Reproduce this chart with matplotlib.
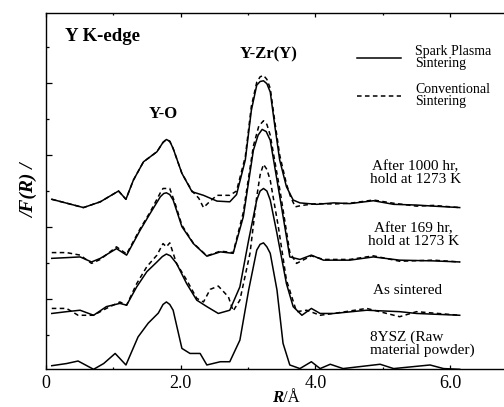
import matplotlib
matplotlib.use("Agg")
import matplotlib.pyplot as plt
from matplotlib.ticker import MultipleLocator

plt.rcParams['font.family'] = ['Liberation Serif', 'DejaVu Serif']

# ---- data (R in Angstrom, |F(R)| in stacked arbitrary units) ----
r_sps_1000 = [0.09, 0.56, 0.81, 1.08, 1.19, 1.30, 1.45, 1.65, 1.74, 1.79, 1.84, 1.89, 2.02, 2.17, 2.34, 2.54,
              2.73, 2.83, 2.96, 3.05, 3.13, 3.18, 3.23, 3.28, 3.33, 3.40, 3.47, 3.57, 3.67, 3.77, 4.02, 4.27,
              4.51, 4.86, 5.16, 5.50, 5.75, 6.14]
f_sps_1000 = [4.77, 4.54, 4.70, 5.00, 4.77, 5.30, 5.81, 6.09, 6.35, 6.43, 6.38, 6.18, 5.49, 4.98, 4.88, 4.72,
              4.70, 4.90, 5.86, 7.24, 7.94, 8.04, 8.06, 7.98, 7.75, 6.78, 5.86, 5.12, 4.75, 4.67, 4.63, 4.67,
              4.65, 4.73, 4.63, 4.61, 4.58, 4.54]

r_cs_1000 = [0.09, 0.56, 0.81, 1.08, 1.19, 1.30, 1.45, 1.65, 1.74, 1.79, 1.84, 1.89, 2.02, 2.17, 2.27, 2.34,
             2.44, 2.54, 2.73, 2.83, 2.96, 3.05, 3.13, 3.18, 3.23, 3.28, 3.33, 3.40, 3.47, 3.57, 3.63, 3.70,
             3.80, 4.02, 4.27, 4.51, 4.86, 5.16, 5.50, 5.75, 6.14]
f_cs_1000 = [4.77, 4.54, 4.70, 5.00, 4.77, 5.30, 5.81, 6.09, 6.35, 6.43, 6.38, 6.18, 5.49, 5.00, 4.80, 4.54,
             4.72, 4.88, 4.88, 5.00, 5.95, 7.35, 8.02, 8.17, 8.21, 8.10, 7.85, 6.90, 6.00, 5.20, 4.85, 4.56,
             4.60, 4.65, 4.64, 4.66, 4.75, 4.66, 4.58, 4.60, 4.54]

r_sps_169 = [0.09, 0.31, 0.51, 0.68, 0.81, 1.05, 1.20, 1.40, 1.55, 1.70, 1.75, 1.79, 1.84, 1.89, 2.02, 2.19,
             2.39, 2.59, 2.78, 2.93, 3.08, 3.15, 3.21, 3.27, 3.33, 3.48, 3.62, 3.77, 3.94, 4.12, 4.51, 4.86,
             5.25, 5.75, 6.14]
f_sps_169 = [3.13, 3.15, 3.17, 3.03, 3.13, 3.40, 3.22, 3.91, 4.38, 4.84, 4.93, 4.95, 4.90, 4.75, 4.01, 3.54,
             3.19, 3.31, 3.27, 4.28, 6.13, 6.55, 6.71, 6.65, 6.41, 4.75, 3.17, 3.10, 3.22, 3.08, 3.08, 3.17,
             3.08, 3.06, 3.03]

r_cs_169 = [0.09, 0.31, 0.51, 0.68, 0.81, 1.05, 1.20, 1.40, 1.55, 1.70, 1.74, 1.84, 1.92, 2.02, 2.19, 2.39,
            2.59, 2.78, 2.93, 3.08, 3.16, 3.23, 3.28, 3.33, 3.48, 3.62, 3.72, 3.94, 4.12, 4.51, 4.86, 5.25,
            5.75, 6.14]
f_cs_169 = [3.29, 3.29, 3.22, 2.99, 3.10, 3.45, 3.25, 3.95, 4.42, 4.95, 5.07, 5.07, 4.65, 4.05, 3.55, 3.20,
            3.33, 3.29, 4.40, 6.25, 6.80, 6.95, 6.85, 6.55, 4.95, 3.30, 2.99, 3.20, 3.10, 3.10, 3.20, 3.05,
            3.08, 3.03]

r_sps_as = [0.09, 0.31, 0.51, 0.71, 0.90, 1.10, 1.20, 1.35, 1.50, 1.65, 1.73, 1.79, 1.85, 1.94, 2.09, 2.24,
            2.39, 2.56, 2.73, 2.88, 3.01, 3.13, 3.18, 3.23, 3.28, 3.33, 3.43, 3.57, 3.67, 3.80, 3.94, 4.07,
            4.27, 4.76, 5.25, 5.50, 6.14]
f_sps_as = [1.60, 1.65, 1.69, 1.55, 1.79, 1.88, 1.83, 2.34, 2.76, 3.03, 3.18, 3.25, 3.20, 2.99, 2.43, 1.97,
            1.79, 1.60, 1.69, 2.34, 3.64, 4.75, 5.00, 5.07, 5.00, 4.75, 3.82, 2.43, 1.79, 1.55, 1.74, 1.60,
            1.60, 1.69, 1.65, 1.60, 1.55]

r_cs_as = [0.09, 0.31, 0.48, 0.71, 0.90, 1.10, 1.20, 1.35, 1.50, 1.65, 1.74, 1.79, 1.84, 1.94, 2.09, 2.24,
           2.34, 2.44, 2.56, 2.71, 2.78, 2.88, 3.03, 3.13, 3.18, 3.23, 3.28, 3.33, 3.45, 3.57, 3.72, 3.87,
           4.07, 4.27, 4.76, 5.25, 5.50, 6.14]
f_cs_as = [1.74, 1.74, 1.55, 1.55, 1.74, 1.92, 1.83, 2.43, 2.90, 3.22, 3.54, 3.45, 3.56, 2.99, 2.53, 2.02,
           1.92, 2.27, 2.36, 2.06, 1.67, 1.97, 3.27, 4.84, 5.45, 5.74, 5.60, 5.30, 4.01, 2.53, 1.65, 1.69,
           1.55, 1.60, 1.74, 1.51, 1.65, 1.55]

r_raw = [0.09, 0.31, 0.48, 0.71, 0.86, 1.03, 1.19, 1.37, 1.52, 1.67, 1.74, 1.79, 1.84, 1.89, 2.02, 2.14,
         2.29, 2.39, 2.59, 2.73, 2.88, 3.01, 3.13, 3.18, 3.23, 3.28, 3.33, 3.43, 3.52, 3.62, 3.77, 3.94,
         4.07, 4.22, 4.41, 4.96, 5.16, 5.70, 5.90, 6.14]
f_raw = [0.15, 0.21, 0.28, 0.05, 0.21, 0.49, 0.17, 0.95, 1.33, 1.61, 1.85, 1.92, 1.85, 1.69, 0.63, 0.49,
         0.49, 0.17, 0.26, 0.26, 0.86, 2.25, 3.36, 3.52, 3.56, 3.45, 3.27, 2.25, 0.77, 0.17, 0.07, 0.26,
         0.07, 0.19, 0.07, 0.19, 0.07, 0.17, 0.07, 0.05]

x_ticks = [0, 2, 4, 6]
x_tick_labels = ['0', '2.0', '4.0', '6.0']

# ---- figure ----
fig = plt.figure(figsize=(5.04, 4.07), dpi=100)
ax = fig.add_axes([45.7 / 504, 1 - 369.3 / 407, 472 / 504, (369.3 - 12.7) / 407])

dotted = (0, (3.0, 2.2))
lw = 1.1
ax.plot(r_sps_1000, f_sps_1000, color='black', lw=lw, label='Spark Plasma\nSintering')
ax.plot(r_cs_1000, f_cs_1000, color='black', lw=lw, linestyle=dotted, label='Conventional\nSintering')
ax.plot(r_sps_169, f_sps_169, color='black', lw=lw)
ax.plot(r_cs_169, f_cs_169, color='black', lw=lw, linestyle=dotted)
ax.plot(r_sps_as, f_sps_as, color='black', lw=lw)
ax.plot(r_cs_as, f_cs_as, color='black', lw=lw, linestyle=dotted)
ax.plot(r_raw, f_raw, color='black', lw=lw)

ax.set_xlim(0, 7)
ax.set_ylim(0.05, 9.95)
ax.set_xticks(x_ticks)
ax.set_xticklabels(x_tick_labels, fontsize=13)
ax.xaxis.set_minor_locator(MultipleLocator(1))
ax.set_yticks([2, 4, 6, 8])
ax.yaxis.set_minor_locator(MultipleLocator(1))
ax.set_yticklabels([])
ax.tick_params(axis='x', which='major', direction='in', length=3.2, width=0.9, top=True, pad=4)
ax.tick_params(axis='x', which='minor', direction='in', length=1.6, width=0.9, top=True)
ax.tick_params(axis='y', which='major', direction='in', length=4.0, width=0.9)
ax.tick_params(axis='y', which='minor', direction='in', length=2.4, width=0.9)
for s in ['left', 'top', 'bottom']:
    ax.spines[s].set_linewidth(1.0)
ax.spines['right'].set_visible(False)

ax.set_ylabel('/F(R) /', fontsize=14, fontweight='bold', fontstyle='italic')
ax.yaxis.set_label_coords(-0.016, 0.5)

fig.text(283 / 504, 1.5 / 407, 'R', fontsize=12, fontweight='bold', fontstyle='italic',
         ha='right', va='bottom')
fig.text(283 / 504, 1.5 / 407, '/Å', fontsize=12, ha='left', va='bottom')

ax.text(0.29, 9.3, 'Y K-edge', fontsize=13.5, fontweight='bold', ha='left', va='center')
ax.text(1.75, 7.15, 'Y-O', fontsize=12, fontweight='bold', ha='center', va='center')
ax.text(3.3, 8.8, 'Y-Zr(Y)', fontsize=12, fontweight='bold', ha='center', va='center')

ax.text(5.48, 5.50, 'After 1000 hr,\nhold at 1273 K', fontsize=11, ha='center', va='center',
        linespacing=0.95)
ax.text(5.46, 3.77, 'After 169 hr,\nhold at 1273 K', fontsize=11, ha='center', va='center',
        linespacing=0.95)
ax.text(5.36, 2.23, 'As sintered', fontsize=11, ha='center', va='center')
ax.text(4.81, 0.77, '8YSZ (Raw\nmaterial powder)', fontsize=11, ha='left', va='center',
        linespacing=0.95)

leg = ax.legend(loc='upper left', bbox_to_anchor=(356.7 / 504, 1 - 45 / 407),
                bbox_transform=fig.transFigure, frameon=False, fontsize=10,
                handlelength=3.2, handletextpad=1.0, borderpad=0, borderaxespad=0,
                labelspacing=0.9)
for t in leg.get_texts():
    t.set_linespacing(0.95)

fig.savefig('out.png', dpi=100)
